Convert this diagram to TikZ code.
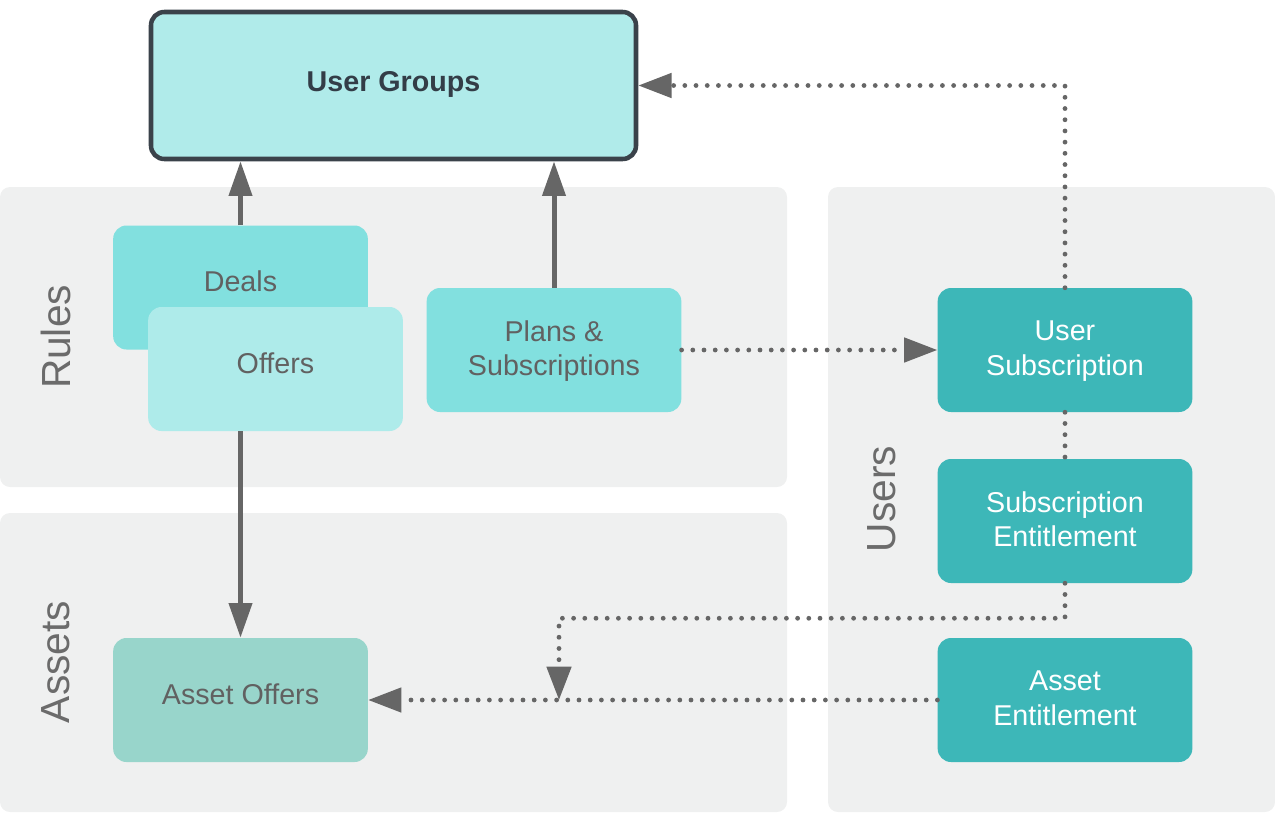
\documentclass[tikz,border=0pt]{standalone}
\usepackage{fontspec}
\setmainfont{Liberation Sans}
\usetikzlibrary{arrows.meta,shapes}
\definecolor{panelgray}{HTML}{EFF0F0}
\definecolor{ugfill}{HTML}{B0EBEA}
\definecolor{ugborder}{HTML}{3A424A}
\definecolor{ugtext}{HTML}{333D47}
\definecolor{dealsfill}{HTML}{82E0DF}
\definecolor{offersfill}{HTML}{AEEBEA}
\definecolor{userfill}{HTML}{3DB7B8}
\definecolor{assetofffill}{HTML}{98D5CB}
\definecolor{textgray}{HTML}{616161}
\definecolor{labelgray}{HTML}{6B6B6B}
\definecolor{arrowgray}{HTML}{666666}
\tikzstyle{panel}=[fill=panelgray,rounded corners=7.5pt]
\tikzstyle{panellabel}=[rotate=90,text=labelgray,inner sep=0pt,font=\fontsize{30.5}{36}\selectfont]
\tikzstyle{groupbox}=[draw=ugborder,line width=3.4pt,fill=ugfill,rounded corners=10pt,minimum width=363.75pt,minimum height=110.25pt,text=ugtext,text depth=6.5pt,font=\fontsize{21.5}{26}\selectfont\bfseries]
\tikzstyle{box}=[rounded corners=10pt,minimum width=191pt,minimum height=93pt,inner sep=0pt,align=center,font=\fontsize{21.5}{26}\selectfont]
\tikzstyle{edge}=[draw,line width=3.75pt,arrowgray,-{Triangle[length=26pt,width=17pt]}]
\tikzstyle{dots}=[draw,line width=3.6pt,arrowgray,line cap=round,dash pattern=on 0pt off 8.4pt,-{Triangle[length=25pt,width=18pt]}]

\begin{document}
\begin{tikzpicture}[x=0.75pt,y=-0.75pt]
    \useasboundingbox (0,0) rectangle (1275,814);

    % background panels
    \fill[panel] (0,187) rectangle (787,487);
    \fill[panel] (0,513) rectangle (787,812);
    \fill[panel] (828,187) rectangle (1275,812);

    \node[panellabel] (rules) at (56,337) {Rules};
    \node[panellabel] (assets) at (56,662) {Assets};
    \node[panellabel] (users) at (882,499) {Users};

    \node[groupbox] (ug) at (393.5,85.5) {User Groups};

    \foreach \x/\y/\name/\col/\dep/\txt in {240.5/287.5/deals/dealsfill/9pt/Deals, 275.5/369/offers/offersfill/9pt/Offers, 554/350/plans/dealsfill/3pt/{Plans \&\\Subscriptions}, 240.5/700/assetoffers/assetofffill/9pt/{Asset Offers}}
        \node[box, fill=\col, text=textgray, text depth=\dep] (\name) at (\x,\y) {\txt};

    \foreach \x/\y/\name/\txt in {1065/350/usersub/{User\\Subscription}, 1065/521/subent/{Subscription\\Entitlement}, 1065/700/assetent/{Asset\\Entitlement}}
        \node[box, fill=userfill, text=white, text depth=3pt] (\name) at (\x,\y) {\txt};

    % solid connectors
    \path[edge] (deals.north) -- (deals.north |- ug.south);
    \path[edge] (plans.north) -- (plans.north |- ug.south);
    \path[edge] (offers.south -| assetoffers) -- (assetoffers.north);

    % dotted connectors
    \coordinate (joint) at (559,700);
    \path[dots] (plans.east) -- (usersub.west);
    \path[dots] (usersub.north) |- (ug.east);
    \path[dots, -] (usersub.south) -- (subent.north);
    \path[dots] (subent.south) -- ++(0,35) -| (joint);
    \path[dots] (assetent.west) -- (assetoffers.east);

\end{tikzpicture}
\end{document}
